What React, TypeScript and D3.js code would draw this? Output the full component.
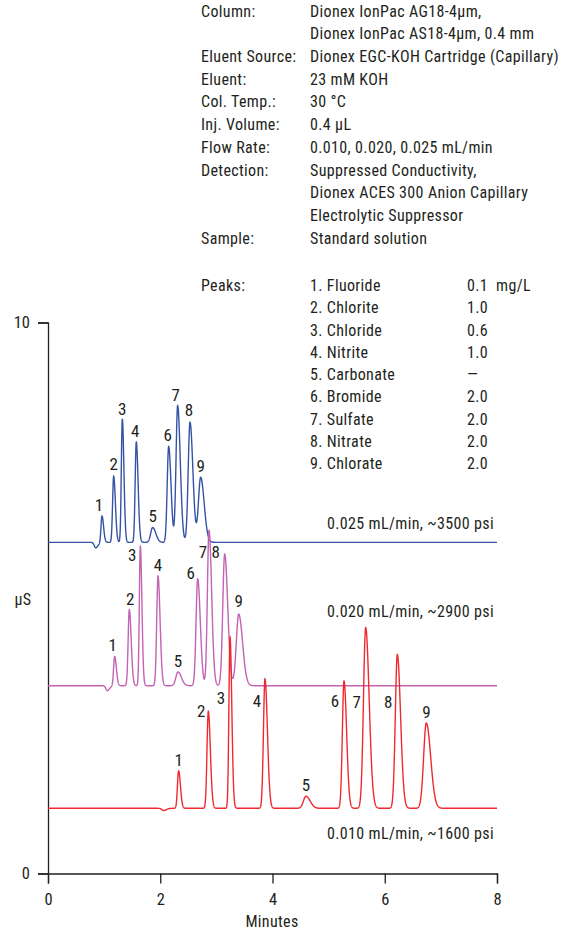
import React, { useRef, useEffect } from "react";
import * as d3 from "d3";

// method block
const infoLabels = ["Column:", "", "Eluent Source:", "Eluent:", "Col. Temp.:", "Inj. Volume:", "Flow Rate:", "Detection:", "", "", "Sample:"];
const infoValues = [
  "Dionex IonPac AG18-4µm,",
  "Dionex IonPac AS18-4µm, 0.4 mm",
  "Dionex EGC-KOH Cartridge (Capillary)",
  "23 mM KOH",
  "30 °C",
  "0.4 µL",
  "0.010, 0.020, 0.025 mL/min",
  "Suppressed Conductivity,",
  "Dionex ACES 300 Anion Capillary",
  "Electrolytic Suppressor",
  "Standard solution",
];
const peakNames = ["Fluoride", "Chlorite", "Chloride", "Nitrite", "Carbonate", "Bromide", "Sulfate", "Nitrate", "Chlorate"];
const peakConc = ["0.1", "1.0", "0.6", "1.0", "—", "2.0", "2.0", "2.0", "2.0"];
const concUnit = "mg/L";

const xTicks = [0, 2, 4, 6, 8];
const yTicks = [0, 10];

// 0.025 mL/min trace (min, µS)
const base025 = 6.01;
const rt025 = [0.962, 1.17, 1.324, 1.573, 1.865, 2.15, 2.31, 2.53, 2.72];
const h025 = [0.48, 1.2, 2.24, 1.82, 0.27, 1.74, 2.48, 2.18, 1.18];
const w025 = [0.0175, 0.019, 0.0175, 0.02, 0.035, 0.026, 0.029, 0.032, 0.039];
const dip025 = { t: 0.85, h: -0.1, w: 0.025 };

// 0.020 mL/min trace
const base020 = 3.408;
const rt020 = [1.188, 1.449, 1.645, 1.96, 2.316, 2.667, 2.869, 3.148, 3.398];
const h020 = [0.53, 1.38, 2.53, 1.99, 0.25, 1.94, 2.82, 2.39, 1.3];
const w020 = [0.019, 0.021, 0.0175, 0.023, 0.038, 0.029, 0.029, 0.034, 0.043];
const dip020 = { t: 1.057, h: -0.09, w: 0.025 };

// 0.010 mL/min trace
const base010 = 1.183;
const rt010 = [2.327, 2.856, 3.243, 3.866, 4.597, 5.274, 5.66, 6.224, 6.741];
const h010 = [0.68, 1.76, 3.11, 2.35, 0.22, 2.31, 3.28, 2.79, 1.55];
const w010 = [0.0205, 0.023, 0.0196, 0.027, 0.046, 0.029, 0.039, 0.036, 0.048];
const dip010 = { t: 2.06, h: -0.04, w: 0.03 };

const traceNames = ["0.025 mL/min, ~3500 psi", "0.020 mL/min, ~2900 psi", "0.010 mL/min, ~1600 psi"];

// label nudges in px [dx, dy] (layout only)
const nudge025 = [[-3, 0], [0, -1], [0, 1], [-1, 0], [0, 0], [-1, 0], [-2, 0], [-1, -1], [0, 0]];
const nudge020 = [[-2, -1], [1, 0], [-8, 20], [0, 0], [0, 0], [-7, 5], [-6, 33], [-9, 9], [0, -2]];
const nudge010 = [[0, 0], [-7, 11], [-9, 72], [-8, 33], [0, 0], [-9, 31], [-9, 85], [-9, 58], [0, 0]];

const FONT = "'Liberation Sans Narrow', 'Arial Narrow', 'Roboto Condensed', Roboto, sans-serif";
const INK = "#231f20";
const TAIL = 1.6;
const FS = 16;
const LS = 0.35;

const width = 564;
const height = 930;

const x = d3.scaleLinear().domain([0, 8]).range([48, 497]);
const y = d3.scaleLinear().domain([0, 10]).range([873.5, 322.5]);

function signal(t, base, rt, h, w, dip) {
  let v = base;
  const all = rt.map((r, i) => ({ t: r, h: h[i], w: w[i] })).concat([dip]);
  all.forEach((p) => {
    const s = t < p.t ? p.w : p.w * TAIL;
    v += p.h * Math.exp(-0.5 * ((t - p.t) / s) ** 2);
  });
  return v;
}

const times = d3.range(0, 8.0001, 0.002);

const traces = [
  { base: base025, rt: rt025, h: h025, w: w025, dip: dip025, color: "#3553a4", nudge: nudge025, name: traceNames[0], nameY: 529 },
  { base: base020, rt: rt020, h: h020, w: w020, dip: dip020, color: "#c462b3", nudge: nudge020, name: traceNames[1], nameY: 616.5 },
  { base: base010, rt: rt010, h: h010, w: w010, dip: dip010, color: "#ee2a30", nudge: nudge010, name: traceNames[2], nameY: 839 },
];

const App = () => {
  const xAxisRef = useRef(null);
  const yAxisRef = useRef(null);

  useEffect(() => {
    const xa = d3.select(xAxisRef.current);
    xa.attr("transform", "translate(0," + y(0) + ")")
      .call(d3.axisBottom(x).tickValues(xTicks).tickSizeOuter(0).tickSize(10).tickPadding(10));
    const ya = d3.select(yAxisRef.current);
    ya.attr("transform", "translate(" + x(0) + ",0)")
      .call(d3.axisLeft(y).tickValues(yTicks).tickSizeOuter(0).tickSize(10).tickPadding(8));
    [xa, ya].forEach((a) => {
      a.selectAll("path, line").attr("stroke", INK).attr("stroke-width", 1.3);
      a.selectAll("text").attr("fill", INK).style("font-family", FONT).style("font-size", "16.5px");
    });
  }, []);

  const line = d3.line().x((d) => x(d[0])).y((d) => y(d[1]));

  return (
    <svg width={width} height={height} style={{ position: "absolute", left: 0, top: 0, background: "#fff" }}>
      <g fontFamily={FONT} fontSize={FS} letterSpacing={LS} fill={INK}>
        {infoLabels.map((l, i) => (
          <text key={"l" + i} x={201} y={16.5 + i * 22.74}>{l}</text>
        ))}
        {infoValues.map((v, i) => (
          <text key={"v" + i} x={310} y={16.5 + i * 22.74}>{v}</text>
        ))}
        <text x={201} y={291}>Peaks:</text>
        {peakNames.map((n, i) => (
          <text key={"p" + i} x={310} y={291 + i * 22.25}>{(i + 1) + ". " + n}</text>
        ))}
        {peakConc.map((c, i) => (
          <text key={"c" + i} x={467} y={291 + i * 22.25}>{c}</text>
        ))}
        <text x={496} y={291}>{concUnit}</text>

        <text x={23} y={605} textAnchor="middle">µS</text>
        <text x={272} y={927} textAnchor="middle">Minutes</text>
      </g>

      <g ref={xAxisRef}></g>
      <g ref={yAxisRef}></g>

      {traces.map((tr, k) => (
        <g key={"t" + k}>
          <path
            d={line(times.map((t) => [t, signal(t, tr.base, tr.rt, tr.h, tr.w, tr.dip)]))}
            fill="none"
            stroke={tr.color}
            strokeWidth={1.4}
          />
          <text x={494} y={tr.nameY} textAnchor="end" fontFamily={FONT} fontSize={FS} letterSpacing={LS} fill={INK}>{tr.name}</text>
          {tr.rt.map((t, i) => (
            <text
              key={"n" + i}
              x={x(t) + tr.nudge[i][0]}
              y={y(tr.base + tr.h[i]) - 5 + tr.nudge[i][1]}
              textAnchor="middle"
              fontFamily={FONT}
              fontSize={17}
              fill={INK}
            >
              {i + 1}
            </text>
          ))}
        </g>
      ))}
    </svg>
  );
};

export default App;
